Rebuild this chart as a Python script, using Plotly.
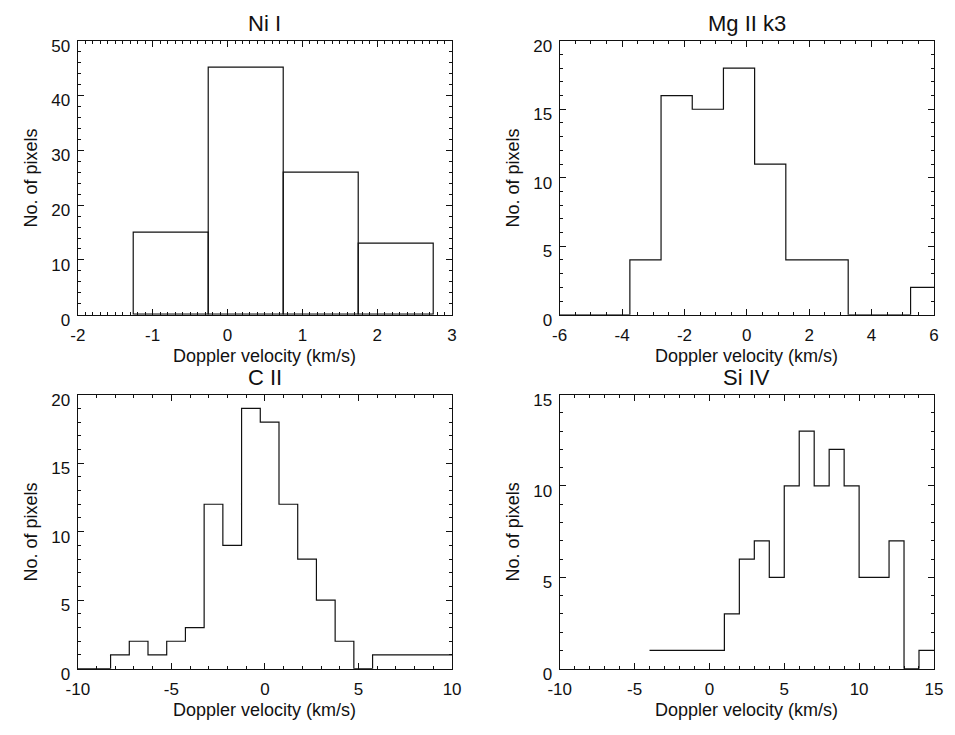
import numpy as np
import plotly.graph_objects as go

# ---- data ----
ni_centers = [-0.75, 0.25, 1.25, 2.25]
ni_counts = [15, 45, 26, 13]

mg_centers = [-6.25, -5.25, -4.25, -3.25, -2.25, -1.25, -0.25, 0.75, 1.75, 2.75, 3.75, 4.75, 5.75]
mg_counts = [0, 0, 0, 4, 16, 15, 18, 11, 4, 4, 0, 0, 2]

c2_centers = [-9.75, -8.75, -7.75, -6.75, -5.75, -4.75, -3.75, -2.75, -1.75, -0.75, 0.25,
              1.25, 2.25, 3.25, 4.25, 5.25, 6.25, 7.25, 8.25, 9.25, 10.25]
c2_counts = [0, 0, 1, 2, 1, 2, 3, 12, 9, 19, 18, 12, 8, 5, 2, 0, 1, 1, 1, 1, 1]

si_centers = [-3.5, -2.5, -1.5, -0.5, 0.5, 1.5, 2.5, 3.5, 4.5, 5.5, 6.5, 7.5, 8.5, 9.5,
              10.5, 11.5, 12.5, 13.5, 14.5]
si_counts = [1, 1, 1, 1, 1, 3, 6, 7, 5, 10, 13, 10, 12, 10, 5, 5, 7, 0, 1]

# tick labels (hyphen minus as in the reference)
ni_xticks = [-2, -1, 0, 1, 2, 3]
ni_xlabels = ["-2", "-1", "0", "1", "2", "3"]
mg_xticks = [-6, -4, -2, 0, 2, 4, 6]
mg_xlabels = ["-6", "-4", "-2", "0", "2", "4", "6"]
c2_xticks = [-10, -5, 0, 5, 10]
c2_xlabels = ["-10", "-5", "0", "5", "10"]
si_xticks = [-10, -5, 0, 5, 10, 15]
si_xlabels = ["-10", "-5", "0", "5", "10", "15"]

titles = ["Ni I", "Mg II k3", "C II", "Si IV"]
xlabel = "Doppler velocity (km/s)"
ylabel = "No. of pixels"

FONT = "Liberation Sans, Arial, Helvetica, sans-serif"
W, H = 955, 735
INK = "#111111"

# panel pixel boxes (left, right, top, bottom)
boxes = [(67.3, 450.0, 37.7, 319.0), (560.0, 942.7, 37.7, 319.0),
         (67.3, 450.0, 401.0, 682.3), (560.0, 942.7, 401.0, 682.3)]

xranges = [[-2, 3], [-6, 6], [-10, 10], [-10, 15]]
yranges = [[0, 50], [0, 20], [0, 20], [0, 15]]
xtickvals = [ni_xticks, mg_xticks, c2_xticks, si_xticks]
xticktext = [ni_xlabels, mg_xlabels, c2_xlabels, si_xlabels]
xminor = [0.1, 0.5, 1, 1]
ydticks = [10, 5, 5, 5]
yminor = [2, 1, 1, 1]


def step_xy(centers, counts):
    c = np.asarray(centers, dtype=float)
    w = c[1] - c[0]
    x = np.concatenate([c - w / 2, [c[-1] + w / 2]])
    y = np.concatenate([np.asarray(counts, dtype=float), [counts[-1]]])
    return x, y


fig = go.Figure()

# Ni I as outlined bars
fig.add_trace(go.Bar(x=ni_centers, y=ni_counts, width=1.0,
                     marker=dict(color="rgba(0,0,0,0)", line=dict(color=INK, width=1.2)),
                     xaxis="x", yaxis="y", showlegend=False))

for i, (cen, cnt) in enumerate([(mg_centers, mg_counts), (c2_centers, c2_counts), (si_centers, si_counts)]):
    x, y = step_xy(cen, cnt)
    n = i + 2
    fig.add_trace(go.Scatter(x=x, y=y, mode="lines", line=dict(color=INK, width=1.2, shape="hv"),
                             xaxis=f"x{n}", yaxis=f"y{n}", showlegend=False))

layout = dict(width=W, height=H, margin=dict(l=0, r=0, t=0, b=0),
              paper_bgcolor="white", plot_bgcolor="white",
              font=dict(family=FONT, size=17, color=INK), bargap=0)

annotations = []
for k in range(4):
    l, r, t, b = boxes[k]
    n = "" if k == 0 else str(k + 1)
    common = dict(showline=True, linecolor=INK, linewidth=1.3, mirror="ticks",
                  ticks="inside", tickcolor=INK, tickwidth=1, showgrid=False, zeroline=False,
                  tickfont=dict(family=FONT, size=17, color=INK), ticklen=6)
    layout[f"xaxis{n}"] = dict(domain=[l / W, r / W], range=xranges[k],
                               tickmode="array", tickvals=xtickvals[k], ticktext=xticktext[k],
                               anchor=f"y{n}", ticklabelstandoff=5,
                               minor=dict(ticks="inside", ticklen=3, dtick=xminor[k], tick0=0,
                                          tickcolor=INK, showgrid=False),
                               **common)
    layout[f"yaxis{n}"] = dict(domain=[1 - b / H, 1 - t / H], range=yranges[k], dtick=ydticks[k], tick0=0,
                               anchor=f"x{n}", ticklabelshift=5, ticklabelstandoff=3,
                               minor=dict(ticks="inside", ticklen=3, dtick=yminor[k], tick0=0,
                                          tickcolor=INK, showgrid=False),
                               **common)
    cx = (l + r) / 2
    annotations.append(dict(text=titles[k], x=cx / W, y=1 - (t - 18) / H, xref="paper", yref="paper",
                            showarrow=False, xanchor="center", yanchor="middle",
                            font=dict(family=FONT, size=22, color=INK)))
    annotations.append(dict(text=xlabel, x=cx / W, y=1 - (b + 42) / H, xref="paper", yref="paper",
                            showarrow=False, xanchor="center", yanchor="middle", borderpad=0,
                            font=dict(family=FONT, size=18, color=INK)))
    annotations.append(dict(text=ylabel, x=(l - 48) / W, y=1 - ((t + b) / 2) / H, xref="paper", yref="paper",
                            showarrow=False, xanchor="center", yanchor="middle", textangle=-90,
                            font=dict(family=FONT, size=18, color=INK)))

layout["annotations"] = annotations
fig.update_layout(**layout)
fig.write_html("out.html")
